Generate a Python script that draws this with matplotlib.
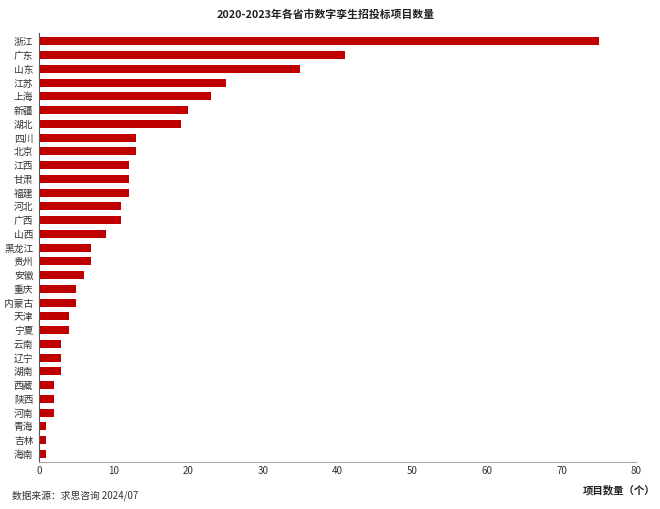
import matplotlib

matplotlib.use("Agg")
import matplotlib.pyplot as plt

plt.rcParams["font.family"] = ["Noto Sans CJK SC", "DejaVu Sans"]

provinces = ["浙江", "广东", "山东", "江苏", "上海", "新疆", "湖北", "四川", "北京", "江西",
             "甘肃", "福建", "河北", "广西", "山西", "黑龙江", "贵州", "安徽", "重庆", "内蒙古",
             "天津", "宁夏", "云南", "辽宁", "湖南", "西藏", "陕西", "河南", "青海", "吉林", "海南"]
counts = [75, 41, 35, 25, 23, 20, 19, 13, 13, 12,
          12, 12, 11, 11, 9, 7, 7, 6, 5, 5,
          4, 4, 3, 3, 3, 2, 2, 2, 1, 1, 1]
xticks = [0, 10, 20, 30, 40, 50, 60, 70, 80]

fig = plt.figure(figsize=(6.6, 5.09), dpi=100)
ax = fig.add_axes([0.059, 0.092, 0.905, 0.843])

ypos = list(range(len(provinces)))
ax.barh(ypos, counts, height=0.58, color="#C00000")
ax.set_yticks(ypos)
ax.set_yticklabels(provinces, fontsize=7, color="#333333")
ax.set_ylim(len(provinces) - 0.4, -0.6)
ax.set_xlim(0, 80)
ax.set_xticks(xticks)
ax.set_xticklabels([str(t) for t in xticks], fontsize=7, color="#333333")
ax.tick_params(axis="x", length=0, pad=3)
ax.tick_params(axis="y", length=0, pad=4)

for side in ["top", "right"]:
    ax.spines[side].set_visible(False)
ax.spines["left"].set_color("#555555")
ax.spines["bottom"].set_color("#AAAAAA")
ax.spines["left"].set_linewidth(0.8)
ax.spines["bottom"].set_linewidth(0.8)

fig.text(0.493, 0.972, "2020-2023年各省市数字孪生招投标项目数量", ha="center", va="center",
         fontsize=7.8, fontweight="bold", color="#222222")
fig.text(0.018, 0.026, "数据来源：求思咨询 2024/07", ha="left", va="center",
         fontsize=7, color="#333333")
fig.text(0.993, 0.036, "项目数量（个）", ha="right", va="center",
         fontsize=7.5, fontweight="bold", color="#222222")

fig.savefig("out.png", dpi=100)
